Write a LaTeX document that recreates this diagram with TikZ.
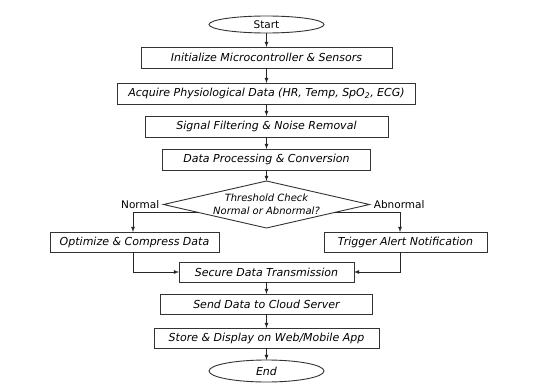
\documentclass[tikz,border=0pt]{standalone}
\usepackage{fontspec}
\setmainfont{DejaVu Sans}
\usetikzlibrary{shapes,arrows,positioning,calc}

\begin{document}
\begin{tikzpicture}[
    node distance=13pt,
    every node/.style={font=\fontsize{10.5}{12}\selectfont, outer sep=0pt},
    process/.style={rectangle, draw=black!80, line width=0.9pt, fill=white, minimum height=21pt, inner sep=2pt, font=\fontsize{11}{12.5}\selectfont\itshape},
    terminal/.style={ellipse, draw=black!80, line width=0.9pt, fill=white, minimum width=115pt, inner sep=0pt},
    decision/.style={diamond, draw=black!80, line width=0.9pt, fill=white, aspect=4.4, inner sep=-8pt, align=center, font=\fontsize{10}{12.5}\selectfont\itshape},
    flow/.style={-latex, line width=0.8pt, black!85}
]

\useasboundingbox (-266.5pt,24.5pt) rectangle (277.5pt,-358.5pt);
\fill[white] (-266.5pt,24.5pt) rectangle (277.5pt,-358.5pt);

\node[terminal, minimum height=17pt] (start) {Start};
\node[process, minimum width=251pt, below=14pt of start] (init) {Initialize Microcontroller \& Sensors};
\node[process, minimum width=298pt, below=15pt of init] (acquire) {Acquire Physiological Data (HR, Temp, SpO\textsubscript{2}, ECG)};
\node[process, minimum width=243pt, below=12pt of acquire] (filter) {Signal Filtering \& Noise Removal};
\node[process, minimum width=208pt, below=12pt of filter] (convert) {Data Processing \& Conversion};
\node[decision, minimum width=206pt, minimum height=47pt, below=11pt of convert] (check) {Threshold Check\\Normal or Abnormal?};
\node[left=1pt of check.west] (normal) {Normal};
\node[right=1pt of check.east] (abnormal) {Abnormal};
\node[process, minimum width=169pt, minimum height=20pt] (compress) at ($(check.south)+(-132pt,-14pt)$) {Optimize \& Compress Data};
\node[process, minimum width=163pt, minimum height=20pt] (alert) at ($(check.south)+(139pt,-14pt)$) {Trigger Alert Notification};
\node[process, minimum width=175pt, minimum height=20pt, below=34pt of check] (secure) {Secure Data Transmission};
\node[process, minimum width=212pt, minimum height=20pt, below=12pt of secure] (cloud) {Send Data to Cloud Server};
\node[process, minimum width=225pt, minimum height=20pt, below=14pt of cloud] (store) {Store \& Display on Web/Mobile App};
\node[terminal, minimum height=22pt, below=12pt of store, font=\fontsize{11}{12.5}\selectfont\itshape] (end) {End};

\draw[flow] (start) -- (init);
\draw[flow] (init) -- (acquire);
\draw[flow] (acquire) -- (filter);
\draw[flow] (filter) -- (convert);
\draw[flow] (convert) -- (check);

% branches
\coordinate (nfork) at ($(check.west)!0.34!(check.south)$);
\coordinate (afork) at ($(check.east)!0.34!(check.south)$);
\draw[flow] (nfork) -| ([xshift=-1.5pt]compress.north);
\draw[flow] (afork) -| ([xshift=-5.5pt]alert.north);
\draw[flow] ([xshift=-1.5pt]compress.south) |- (secure.west);
\draw[flow] ([xshift=-5.5pt]alert.south) |- (secure.east);

\draw[flow] (secure) -- (cloud);
\draw[flow] (cloud) -- (store);
\draw[flow] (store) -- (end);

\end{tikzpicture}
\end{document}
